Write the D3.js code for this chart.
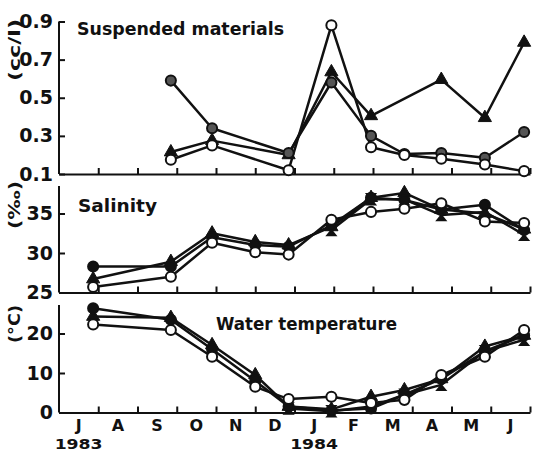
<!DOCTYPE html>
<html>
<head>
<meta charset="utf-8">
<script src="https://cdn.jsdelivr.net/npm/d3@7"></script>
<style>
body { margin: 0; background: #fff; }
text { font-family: "DejaVu Sans", sans-serif; font-weight: bold; fill: #111; }
</style>
</head>
<body>
<svg></svg>
<script>
// sampling dates, in months after 1 July 1983 (Jul, Sep ... Jun)
var sampleMonth = [0.87, 2.85, 3.9, 5.0, 5.85, 6.94, 7.95, 8.8, 9.74, 10.85, 11.85];
var monthLabels = ["J", "A", "S", "O", "N", "D", "J", "F", "M", "A", "M", "J"];
var yearLabels = ["1983", "1984"];
var yearMonth = [0, 6];

// suspended materials (cc/l)
var suspOpen     = [null, 0.175, 0.25, null, 0.12, 0.88, 0.24, 0.20, 0.18, 0.15, 0.115];
var suspFilled   = [null, 0.59, 0.34, null, 0.21, 0.58, 0.30, 0.205, 0.21, 0.185, 0.32];
var suspTriangle = [null, 0.215, 0.275, null, 0.20, 0.635, 0.405, null, 0.595, 0.395, 0.79];
var suspTicks = [0.1, 0.3, 0.5, 0.7, 0.9];

// salinity (per mille)
var salOpen     = [25.7, 27.0, 31.3, 30.1, 29.8, 34.2, 35.2, 35.6, 36.3, 34.0, 33.8];
var salFilled   = [28.3, 28.3, 32.0, 31.0, 30.8, 33.5, 37.0, 36.7, 35.5, 36.1, 32.9];
var salTriangle = [26.7, 28.9, 32.5, 31.4, 31.0, 33.3, 37.0, 37.6, 35.5, 35.0, 33.0];
var salStar     = [null, null, null, null, null, 32.9, 36.8, 36.8, 34.8, 35.2, 32.3];
var salTicks = [25, 30, 35];

// water temperature (deg C)
var tempOpen     = [22.3, 20.9, 14.1, 6.5, 3.4, 4.0, 2.4, 3.2, 9.5, 14.1, 20.9];
var tempFilled   = [26.4, 23.5, 16.0, 8.0, 1.5, 0.5, 1.0, 4.5, 8.5, 15.5, 19.5];
var tempTriangle = [24.3, 24.0, 17.1, 9.5, 1.5, 0.8, 4.0, 5.7, 8.5, 16.7, 19.5];
var tempStar     = [null, null, null, null, 1.0, 0.3, 1.5, 4.5, 7.0, 15.5, 18.4];
var tempTicks = [0, 10, 20];

var width = 533, height = 453;

var svg = d3.select("svg")
    .attr("width", width)
    .attr("height", height);

var x = d3.scaleLinear().domain([0, 12]).range([59, 530]);

var panels = [
    {title: "Suspended materials", tx: 77, ty: 35, tlen: 207, unit: "(cc/l)", uy: 50, ulen: 62,
     top: 21.5, y: d3.scaleLinear().domain([0.1, 0.9]).range([174, 21.5]), ticks: suspTicks, fmt: d3.format(".1f"),
     series: [[suspTriangle, "tri"], [suspFilled, "filledGrey"], [suspOpen, "open"]]},
    {title: "Salinity", tx: 78, ty: 212, tlen: 79, unit: "(\u2030)", uy: 205, ulen: 48,
     top: 186, y: d3.scaleLinear().domain([25, 35]).range([292.5, 213.5]), ticks: salTicks, fmt: d3.format("d"),
     series: [[salStar, "star"], [salTriangle, "tri"], [salFilled, "filled"], [salOpen, "open"]]},
    {title: "Water temperature", tx: 216, ty: 330, tlen: 181, unit: "(\u00b0C)", uy: 324, ulen: 38,
     top: 305, y: d3.scaleLinear().domain([0, 20]).range([412.5, 333.5]), ticks: tempTicks, fmt: d3.format("d"),
     series: [[tempStar, "star"], [tempTriangle, "tri"], [tempFilled, "filled"], [tempOpen, "open"]]}
];

var tri = d3.symbol().type(d3.symbolTriangle).size(75);
var star = "M-4.5,-5.5L4.5,-5.5L-4.5,5.5L4.5,5.5Z";

panels.forEach(function(p) {
    var g = svg.append("g");
    var y0 = p.y.range()[0];

    // left axis line
    g.append("line")
        .attr("x1", x(0)).attr("x2", x(0))
        .attr("y1", p.top).attr("y2", y0)
        .attr("stroke", "#111").attr("stroke-width", 2);

    // left ticks + labels
    var ya = g.append("g")
        .attr("transform", "translate(" + x(0) + ",0)")
        .call(d3.axisLeft(p.y).tickValues(p.ticks).tickSize(-6).tickPadding(6).tickFormat(p.fmt));
    ya.select(".domain").remove();
    ya.selectAll("line").attr("stroke", "#111").attr("stroke-width", 2);
    ya.selectAll("text").attr("font-size", 19).attr("font-family", "DejaVu Sans").attr("fill", "#111");

    // bottom axis with month ticks
    var xa = g.append("g")
        .attr("transform", "translate(0," + y0 + ")")
        .call(d3.axisBottom(x).tickValues(d3.range(1, 13)).tickSize(-6).tickSizeOuter(0).tickFormat(""));
    xa.select(".domain").attr("stroke", "#111").attr("stroke-width", 2);
    xa.selectAll(".tick line").attr("stroke", "#111").attr("stroke-width", 2);

    // title
    g.append("text")
        .attr("x", p.tx).attr("y", p.ty)
        .attr("font-size", 17)
        .attr("textLength", p.tlen).attr("lengthAdjust", "spacingAndGlyphs")
        .text(p.title);

    // unit
    g.append("text")
        .attr("transform", "translate(20," + p.uy + ") rotate(-90)")
        .attr("text-anchor", "middle")
        .attr("font-size", 16)
        .attr("textLength", p.ulen).attr("lengthAdjust", "spacingAndGlyphs")
        .text(p.unit);

    var line = d3.line()
        .x(function(d) { return x(d.m); })
        .y(function(d) { return p.y(d.v); });

    var pts = p.series.map(function(s) {
        return sampleMonth.map(function(m, i) { return {m: m, v: s[0][i]}; })
            .filter(function(d) { return d.v != null; });
    });

    // lines first
    pts.forEach(function(d) {
        g.append("path")
            .datum(d)
            .attr("d", line)
            .attr("fill", "none")
            .attr("stroke", "#111")
            .attr("stroke-width", 2.5)
            .attr("stroke-linejoin", "round");
    });

    // then markers
    pts.forEach(function(d, k) {
        var kind = p.series[k][1];
        var m = g.append("g").selectAll("path")
            .data(d)
            .enter()
            .append("path")
            .attr("transform", function(d) { return "translate(" + x(d.m) + "," + p.y(d.v) + ")"; });
        if (kind == "open" || kind == "filled" || kind == "filledGrey") {
            m.attr("d", d3.symbol().type(d3.symbolCircle).size(80))
                .attr("fill", kind == "open" ? "#fff" : (kind == "filled" ? "#111" : "#555"))
                .attr("stroke", "#111").attr("stroke-width", 2);
        } else if (kind == "tri") {
            m.attr("d", tri).attr("fill", "#111").attr("stroke", "#111").attr("stroke-width", 1);
        } else {
            m.attr("d", star).attr("fill", "#111").attr("stroke", "#111").attr("stroke-width", 1.5);
        }
    });
});

// month and year labels
svg.append("g").selectAll("text")
    .data(monthLabels)
    .enter()
    .append("text")
    .attr("x", function(d, i) { return x(i + 0.5); })
    .attr("y", 431)
    .attr("text-anchor", "middle")
    .attr("font-size", 16)
    .text(function(d) { return d; });

svg.append("g").selectAll("text")
    .data(yearLabels)
    .enter()
    .append("text")
    .attr("x", function(d, i) { return x(yearMonth[i] + 0.5); })
    .attr("y", 449)
    .attr("text-anchor", "middle")
    .attr("font-size", 14)
    .attr("textLength", 48).attr("lengthAdjust", "spacingAndGlyphs")
    .text(function(d) { return d; });
</script>
</body>
</html>
